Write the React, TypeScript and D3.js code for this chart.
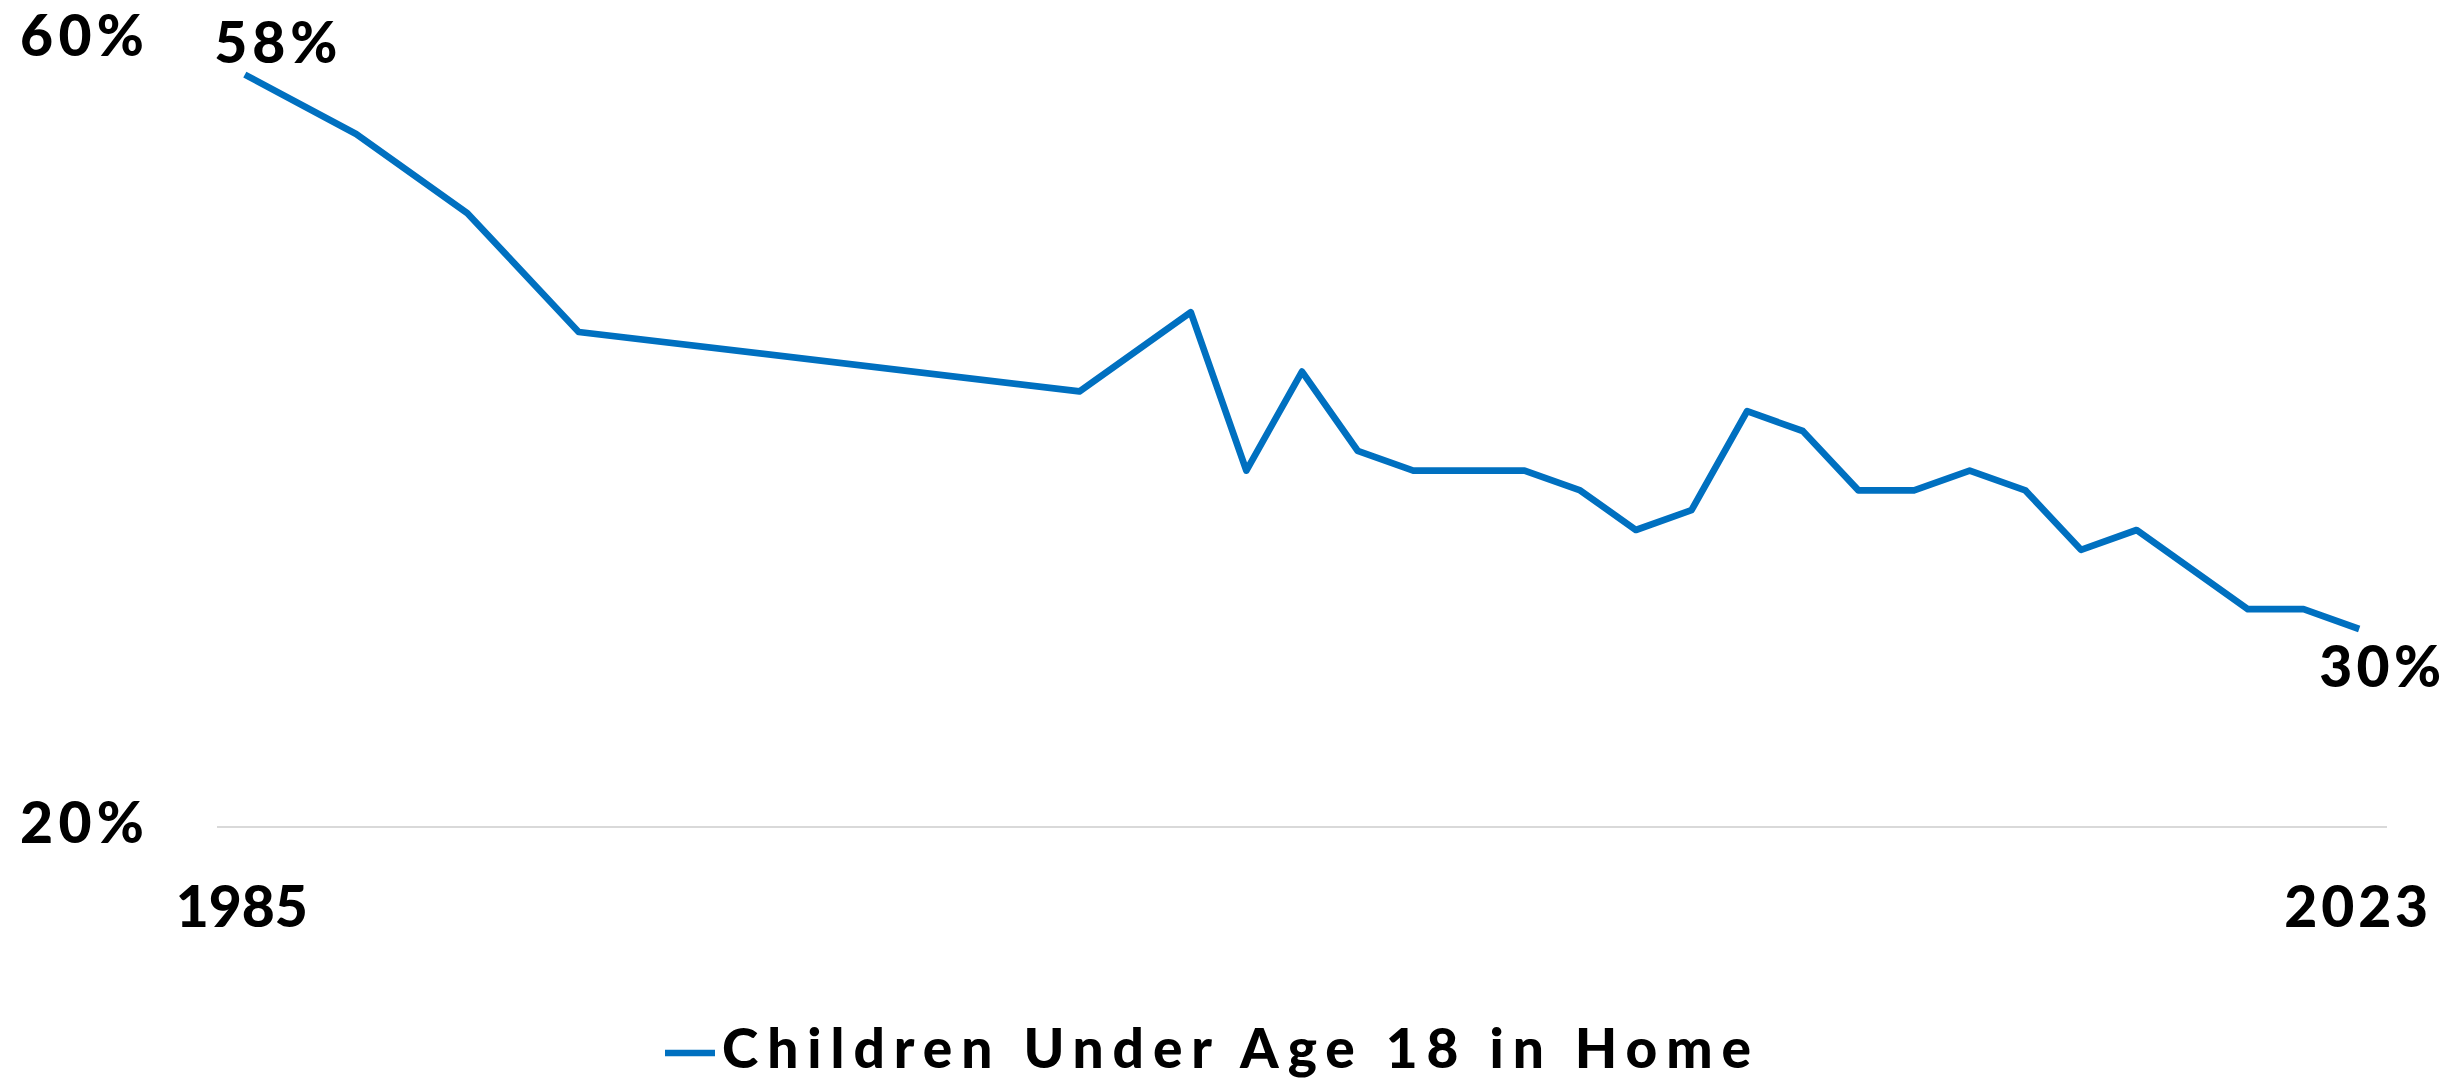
import React, { useEffect } from "react";
import * as d3 from "d3";

const years = [1985, 1987, 1989, 1991, 2000, 2002, 2003, 2004, 2005, 2006, 2008, 2009, 2010, 2011, 2012, 2013, 2014, 2015, 2016, 2017, 2018, 2019, 2021, 2022, 2023];
const values = [58, 55, 51, 45, 42, 46, 38, 43, 39, 38, 38, 37, 35, 36, 41, 40, 37, 37, 38, 37, 34, 35, 31, 31, 30];
const yTickValues = [20, 60];
const xTickYears = [1985, 2023];
const seriesName = "Children Under Age 18 in Home";

const W = 2461;
const H = 1082;
const FONT = "Lato, 'Open Sans', 'DejaVu Sans', sans-serif";
const BLUE = "#0070C0";

export default function App() {
  useEffect(() => {
    document.body.style.margin = "0";
    document.body.style.overflow = "hidden";
  }, []);

  const x = d3.scaleLinear().domain([1984.5, 2023.5]).range([217, 2387]);
  const y = d3.scaleLinear().domain([20, 60]).range([827, 35]);

  const data = years.map((yr, i) => ({ yr, v: values[i] }));
  const line = d3
    .line<{ yr: number; v: number }>()
    .x((d) => x(d.yr))
    .y((d) => y(d.v));

  const first = data[0];
  const last = data[data.length - 1];

  return (
    <svg width={W} height={H} style={{ display: "block" }} xmlns="http://www.w3.org/2000/svg">
      <rect x={0} y={0} width={W} height={H} fill="#ffffff" />
      {/* baseline gridline */}
      <line x1={x.range()[0]} x2={x.range()[1]} y1={y(20)} y2={y(20)} stroke="#D9D9D9" strokeWidth={2} />

      {/* y tick labels */}
      {yTickValues.map((t) => (
        <text
          key={t}
          x={144}
          y={Math.max(y(t) + 16, 56)}
          textAnchor="end"
          fontFamily={FONT}
          fontWeight={900}
          fontSize={57}
          fill="#000"
          textLength={124}
          lengthAdjust="spacing"
        >
          {t}%
        </text>
      ))}

      {/* x tick labels */}
      {xTickYears.map((t, i) => (
        <text
          key={t}
          x={x(t) - 3}
          y={927}
          textAnchor="middle"
          fontFamily={FONT}
          fontWeight={900}
          fontSize={57}
          fill="#000"
          textLength={i === 0 ? 132 : 144}
          lengthAdjust="spacing"
        >
          {t}
        </text>
      ))}

      {/* series line */}
      <path
        d={line(data) || ""}
        fill="none"
        stroke={BLUE}
        strokeWidth={6.7}
        strokeLinejoin="round"
        strokeLinecap="butt"
      />

      {/* data labels */}
      <text
        x={x(first.yr) + 31}
        y={y(first.v) - 12}
        textAnchor="middle"
        fontFamily={FONT}
        fontWeight={900}
        fontSize={57}
        fill="#000"
        textLength={123}
        lengthAdjust="spacing"
      >
        {first.v}%
      </text>
      <text
        x={x(last.yr) + 21}
        y={y(last.v) + 58}
        textAnchor="middle"
        fontFamily={FONT}
        fontWeight={900}
        fontSize={57}
        fill="#000"
        textLength={122}
        lengthAdjust="spacing"
      >
        {last.v}%
      </text>

      {/* legend */}
      <line x1={665} x2={715} y1={1053} y2={1053} stroke={BLUE} strokeWidth={6.7} />
      <text
        x={722}
        y={1068}
        textAnchor="start"
        fontFamily={FONT}
        fontWeight={900}
        fontSize={55}
        fill="#000"
        textLength={1029}
        lengthAdjust="spacing"
      >
        {seriesName}
      </text>
    </svg>
  );
}
